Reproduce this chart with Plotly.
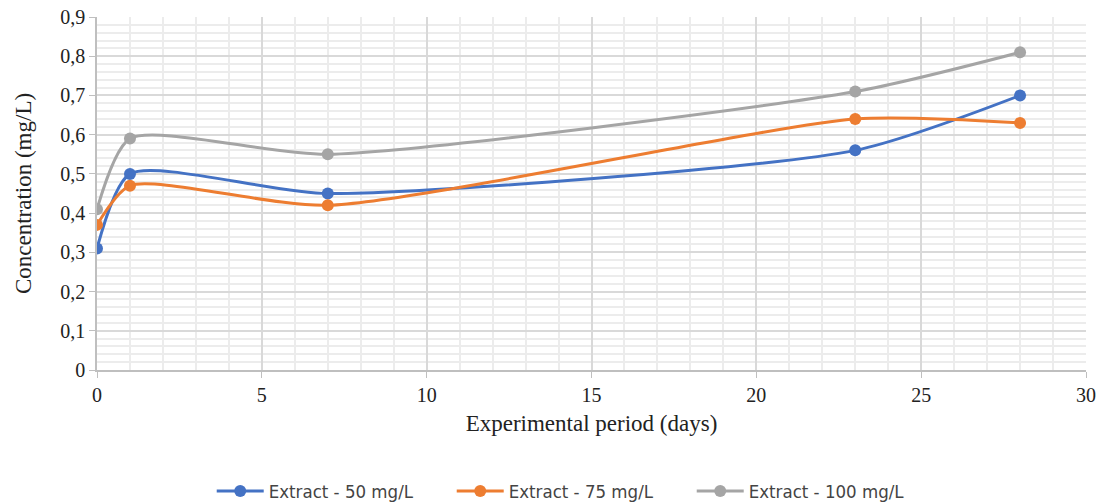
import plotly.graph_objects as go

days = [0, 1, 7, 23, 28]
ext50 = [0.31, 0.50, 0.45, 0.56, 0.70]
ext75 = [0.37, 0.47, 0.42, 0.64, 0.63]
ext100 = [0.41, 0.59, 0.55, 0.71, 0.81]
names = ["Extract - 50 mg/L", "Extract - 75 mg/L", "Extract - 100 mg/L"]
colors = ["#4472C4", "#ED7D31", "#A5A5A5"]

fig = go.Figure()
for name, vals, c in zip(names, [ext50, ext75, ext100], colors):
    fig.add_trace(go.Scatter(
        x=days, y=vals, name=name, mode="lines+markers",
        line=dict(color=c, width=3, shape="spline", smoothing=0.65),
        marker=dict(color=c, size=12),
    ))

fig.update_layout(
    width=1099, height=504,
    paper_bgcolor="white", plot_bgcolor="white",
    separators=", ",
    margin=dict(l=97, r=13, t=17, b=134, autoexpand=False),
    font=dict(family="Liberation Serif, Times New Roman, serif", size=20, color="#222"),
    legend=dict(orientation="h", x=0.48, xanchor="center", y=-0.29, yanchor="top",
                font=dict(family="DejaVu Sans Condensed, Liberation Sans, sans-serif", size=18.5, color="#444"),
                entrywidth=178, itemwidth=47, traceorder="normal"),
    showlegend=True,
)
fig.update_xaxes(
    range=[0, 30], dtick=5, tick0=0, automargin=False, ticklabeloverflow="allow",
    showgrid=True, gridcolor="#d9d9d9", gridwidth=1.5,
    minor=dict(dtick=1, showgrid=True, gridcolor="#ececec", gridwidth=1.5,
               ticks=""),
    ticks="outside", ticklen=6, tickcolor="#bfbfbf",
    showline=True, linecolor="#bfbfbf", linewidth=1.5,
    zeroline=False,
    title=dict(text="Experimental period (days)", font=dict(size=23), standoff=10),
    tickfont=dict(size=20),
)
fig.update_yaxes(
    range=[0, 0.9], dtick=0.1, tick0=0, automargin=False, ticklabeloverflow="allow",
    showgrid=True, gridcolor="#d9d9d9", gridwidth=1.5,
    minor=dict(dtick=0.02, showgrid=True, gridcolor="#ececec", gridwidth=1.5, ticks=""),
    ticks="outside", ticklen=6, tickcolor="#bfbfbf",
    showline=True, linecolor="#bfbfbf", linewidth=1.5,
    zeroline=False,
    title=dict(text="Concentration (mg/L)", font=dict(size=23), standoff=22),
    tickfont=dict(size=20),
)

fig.write_html(
    "out.html",
    config={"displayModeBar": False},
    post_script="document.body.style.margin='0';document.body.style.overflow='hidden';",
)
